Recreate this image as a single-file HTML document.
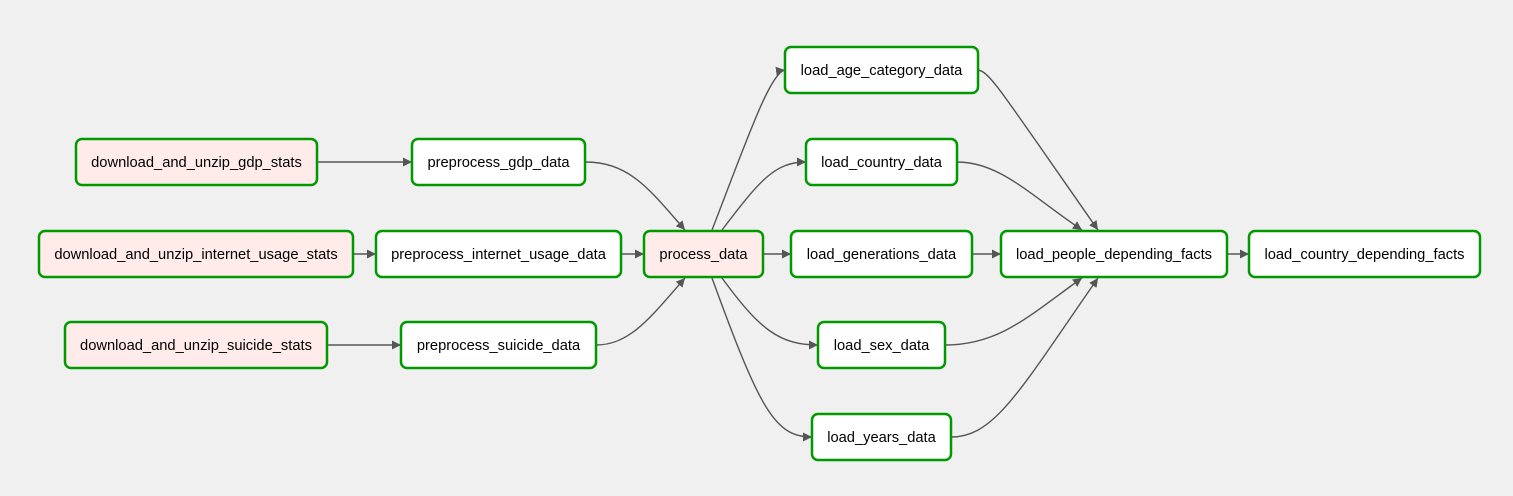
<!DOCTYPE html>
<html><head><meta charset="utf-8"><style>
html,body{margin:0;padding:0;background:#f0f0f0;}
svg{display:block}
text{font-family:"Liberation Sans",Arial,sans-serif;font-size:14.7px;fill:#000;text-anchor:middle;dominant-baseline:central}
.n{fill:#fff;stroke:#009900;stroke-width:2.5}
.p{fill:#ffecea;stroke:#009900;stroke-width:2.5}
.e{fill:none;stroke:#555;stroke-width:1.4;marker-end:url(#a)}
</style></head><body>
<svg width="1513" height="496" viewBox="0 0 1513 496">
<defs><marker id="a" viewBox="0 0 10 10" refX="10" refY="5" markerWidth="9" markerHeight="9" markerUnits="userSpaceOnUse" orient="auto"><path d="M0,0 L10,5 L0,10 z" fill="#555"/></marker></defs>
<path class="e" d="M317,162 L412,162"/>
<path class="e" d="M353,254 L376,254"/>
<path class="e" d="M327,345 L401,345"/>
<path class="e" d="M585,162 C630,162 650,190 685,230"/>
<path class="e" d="M621,254 L644,254"/>
<path class="e" d="M596,345 C630,345 650,318 685,278"/>
<path class="e" d="M712,230 C745,145 770,72 785,70"/>
<path class="e" d="M722,230 C760,180 775,162 806,162"/>
<path class="e" d="M763,254 L791,254"/>
<path class="e" d="M722,278 C760,330 780,345 818,345"/>
<path class="e" d="M712,278 C760,410 775,437 812,437"/>
<path class="e" d="M978,70 C990,72 1000,90 1098,230"/>
<path class="e" d="M957,162 C1000,162 1030,195 1082,230"/>
<path class="e" d="M972,254 L1001,254"/>
<path class="e" d="M945,345 C1000,345 1030,315 1082,278"/>
<path class="e" d="M951,437 C995,437 1020,390 1098,278"/>
<path class="e" d="M1227,254 L1249,254"/>
<rect class="p" x="76" y="139" width="241" height="46" rx="6"/><text x="196.5" y="163">download_and_unzip_gdp_stats</text>
<rect class="n" x="412" y="139" width="173" height="46" rx="6"/><text x="498.5" y="163">preprocess_gdp_data</text>
<rect class="p" x="39" y="231" width="314" height="46" rx="6"/><text x="196" y="255">download_and_unzip_internet_usage_stats</text>
<rect class="n" x="376" y="231" width="245" height="46" rx="6"/><text x="498.5" y="255">preprocess_internet_usage_data</text>
<rect class="p" x="644" y="231" width="119" height="46" rx="6"/><text x="703.5" y="255">process_data</text>
<rect class="p" x="65" y="322" width="262" height="46" rx="6"/><text x="196" y="346">download_and_unzip_suicide_stats</text>
<rect class="n" x="401" y="322" width="195" height="46" rx="6"/><text x="498.5" y="346">preprocess_suicide_data</text>
<rect class="n" x="785" y="47" width="193" height="46" rx="6"/><text x="881.5" y="71">load_age_category_data</text>
<rect class="n" x="806" y="139" width="151" height="46" rx="6"/><text x="881.5" y="163">load_country_data</text>
<rect class="n" x="791" y="231" width="181" height="46" rx="6"/><text x="881.5" y="255">load_generations_data</text>
<rect class="n" x="818" y="322" width="127" height="46" rx="6"/><text x="881.5" y="346">load_sex_data</text>
<rect class="n" x="812" y="414" width="139" height="46" rx="6"/><text x="881.5" y="438">load_years_data</text>
<rect class="n" x="1001" y="231" width="226" height="46" rx="6"/><text x="1114" y="255">load_people_depending_facts</text>
<rect class="n" x="1249" y="231" width="231" height="46" rx="6"/><text x="1364.5" y="255">load_country_depending_facts</text>
</svg>
</body></html>
